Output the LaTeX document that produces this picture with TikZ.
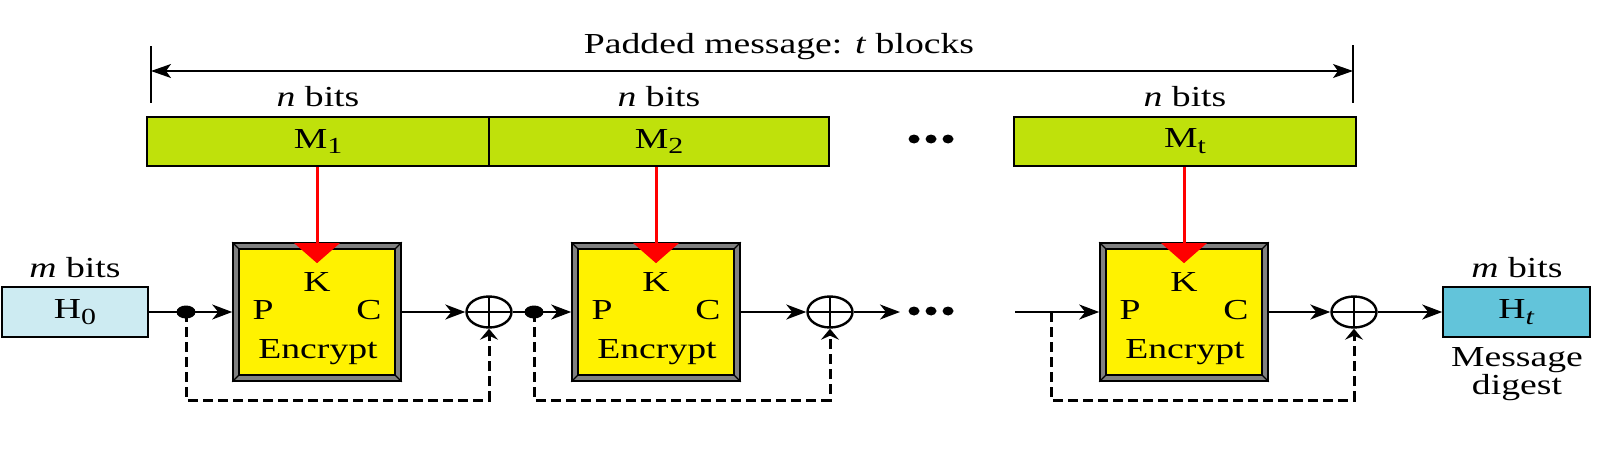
\documentclass[tikz,border=0pt]{standalone}
\usepackage{fontspec}
\setmainfont{Liberation Serif}[FakeStretch=1.3]
\usetikzlibrary{arrows.meta,calc,shapes.geometric}
\definecolor{mgreen}{HTML}{BFE10B}
\definecolor{hlight}{HTML}{CDEBF2}
\definecolor{hdark}{HTML}{62C4DA}
\definecolor{bevel}{HTML}{808080}
\newcommand{\lowsub}[1]{\raisebox{-0.45ex}{\fontsize{11.5}{12}\selectfont #1}}
\begin{document}
\begin{tikzpicture}[x=0.5pt,y=-0.5pt,
  txt/.style={font=\fontsize{14.5}{16}\selectfont, inner sep=0pt},
  mbox/.style={draw=black, line width=0.8pt, fill=mgreen, minimum height=24.5pt, inner sep=0pt, font=\fontsize{14.5}{16}\selectfont},
  hbox/.style={draw=black, line width=0.8pt, minimum width=73pt, minimum height=25pt, inner sep=0pt, font=\fontsize{14.5}{16}\selectfont},
  encbox/.style={draw=black, line width=0.8pt, fill=bevel, minimum width=84pt, minimum height=69pt, inner sep=0pt},
  xorop/.style={ellipse, draw=black, line width=1.2pt, minimum width=22.5pt, minimum height=15.5pt, inner sep=0pt,
    path picture={\draw[line width=1pt] (path picture bounding box.west) -- (path picture bounding box.east)
      (path picture bounding box.north) -- (path picture bounding box.south);}},
  flow/.style={line width=1pt, -{Stealth[length=10pt,width=7.5pt,inset=3pt]}},
  fb/.style={line width=1.5pt, dash pattern=on 5pt off 2.5pt, -{Stealth[length=5.5pt,width=9pt,inset=2pt]}},
  keyarrow/.style={draw=red, line width=1.5pt, -{Triangle[length=10pt,width=22.5pt]}, shorten >=-10.5pt},
  span/.style={line width=0.6pt, {Stealth[length=10pt,width=7pt,inset=2.5pt]}-{Stealth[length=10pt,width=7pt,inset=2.5pt]}}
]
\useasboundingbox (0,0) rectangle (1608,471);

% title and span
\node[txt] (title) at (779,47) {Padded message: \textit{t} blocks};
\coordinate (bl) at (151,71);
\coordinate (br) at (1353,71);
\coordinate (blt) at (151,46);
\coordinate (blb) at (151,103);
\coordinate (brt) at (1353,45);
\coordinate (brb) at (1353,103);
\draw[line width=0.8pt] (blt) -- (blb);
\draw[line width=0.8pt] (brt) -- (brb);
\draw[span] (bl) -- (br);

% message blocks
\node[mbox, minimum width=171pt] (M1) at (318,141.5) {M\lowsub{1}};
\node[mbox, minimum width=170pt] (M2) at (659,141.5) {M\lowsub{2}};
\node[mbox, minimum width=171pt] (Mt) at (1185,141.5) {M\lowsub{t}};
\node[txt] (n1) at (318,97) {\textit{n} bits};
\node[txt] (n2) at (659,97) {\textit{n} bits};
\node[txt] (n3) at (1185,97) {\textit{n} bits};
\foreach \xx in {914,931,948} \fill (\xx,139) ellipse [x radius=5.5, y radius=4.5];

% chaining values
\node[hbox, fill=hlight] (H0) at (75,312) {H\lowsub{0}};
\node[txt] (mb0) at (75,268) {\textit{m} bits};
\node[hbox, fill=hdark, minimum width=73.5pt] (Ht) at (1516.5,312) {H\lowsub{\textit{t}}};
\node[txt] (mbt) at (1517,268) {\textit{m} bits};
\node[txt] (msg) at (1517,360) {Message};
\node[txt] (dig) at (1517,388) {digest};

% encryption boxes
\node[encbox] (E1) at (317,312) {};
\node[encbox] (E2) at (656,312) {};
\node[encbox] (E3) at (1184,312) {};
\foreach \e in {E1,E2,E3} {
  \draw[fill=yellow, line width=0.8pt] ([shift={(7,7)}]\e.north west) rectangle ([shift={(-7,-7)}]\e.south east);
  \draw[line width=0.6pt] (\e.north west) -- ([shift={(7,7)}]\e.north west)
    (\e.north east) -- ([shift={(-7,7)}]\e.north east)
    (\e.south west) -- ([shift={(7,-7)}]\e.south west)
    (\e.south east) -- ([shift={(-7,-7)}]\e.south east);
  \node[txt] (\e K) at ($(\e)+(0,-30)$) {K};
  \node[txt] (\e P) at ($(\e)+(-54,-2)$) {P};
  \node[txt] (\e C) at ($(\e)+(52,-2)$) {C};
  \node[txt] (\e N) at ($(\e)+(1,40)$) {Encrypt};
}

% key arrows
\draw[keyarrow] (M1.south -| E1.north) -- (E1.north);
\draw[keyarrow] (M2.south -| E2.north) -- (E2.north);
\draw[keyarrow] (Mt.south -| E3.north) -- (E3.north);

% xor operators
\node[xorop] (X1) at (489,312) {};
\node[xorop] (X2) at (830,312) {};
\node[xorop] (X3) at (1354,312) {};

% junctions and free ends
\coordinate (j1) at (186,312);
\coordinate (j2) at (534,312);
\coordinate (j3) at (1051,312);
\coordinate (c1) at (900,312);
\coordinate (c2) at (1015,312);

% main flow
\draw[flow] (H0.east) -- (E1.west);
\draw[flow] (E1.east) -- (X1.west);
\draw[flow] (X1.east) -- (E2.west);
\draw[flow] (E2.east) -- (X2.west);
\draw[flow] (X2.east) -- (c1);
\draw[flow] (c2) -- (E3.west);
\draw[flow] (E3.east) -- (X3.west);
\draw[flow] (X3.east) -- (Ht.west);
\foreach \xx in {914,931,948} \fill (\xx,311) ellipse [x radius=5.5, y radius=4.5];

% feed-forward
\draw[fb] (j1) -- ++(0,88) -| (X1.south);
\draw[fb] (j2) -- ++(0,88) -| (X2.south);
\draw[fb] (j3) -- ++(0,88) -| (X3.south);
\fill (j1) ellipse [x radius=9.5, y radius=6.5];
\fill (j2) ellipse [x radius=9.5, y radius=6.5];
\end{tikzpicture}
\end{document}
